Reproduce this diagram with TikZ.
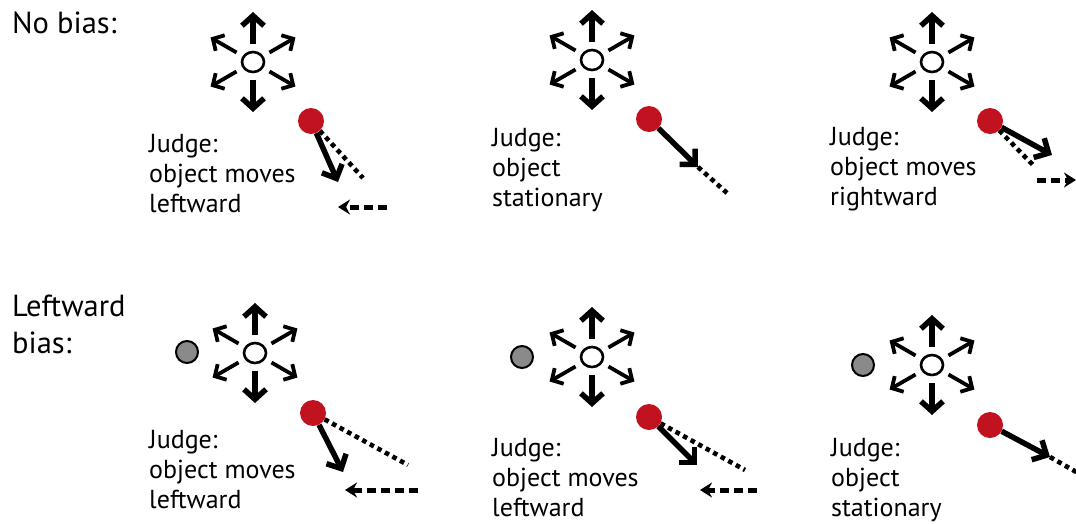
\documentclass[tikz,border=0pt]{standalone}
\usepackage{fontspec}
\setmainfont{PT Sans}
\usetikzlibrary{arrows.meta,shapes.geometric}
\definecolor{dotred}{HTML}{C1121F}
\definecolor{dotgray}{HTML}{8A8A8A}
\tikzset{
  vertarr/.style={line width=5.5pt,-{Straight Barb[length=10pt,width=22pt]}},
  diagarr/.style={line width=3.8pt,-{Straight Barb[length=8.5pt,width=18pt]}},
  centerdot/.style={ellipse,draw,line width=2.6pt,fill=white,minimum width=22pt,minimum height=20pt,inner sep=0pt},
  reddot/.style={circle,fill=dotred,minimum size=26pt,inner sep=0pt},
  graydot/.style={circle,draw,line width=2pt,fill=dotgray,minimum size=22pt,inner sep=0pt},
  solidarr/.style={line width=5.5pt,-{Straight Barb[length=11pt,width=22pt]}},
  dotline/.style={line width=4.6pt,dash pattern=on 4.6pt off 4pt},
  dasharr/.style={line width=5pt,dash pattern=on 9pt off 5pt,-{Stealth[length=12pt,width=15pt]}},
  judgetext/.style={font=\fontsize{26}{30}\selectfont,align=left,inner sep=0pt,anchor=base west},
  rowlabel/.style={font=\fontsize{30.5}{36.5}\selectfont,align=left,inner sep=0pt,anchor=base west},
}
\newcommand\motionstar[1]{%
  \foreach \a in {90,270}
    \draw[vertarr] ([shift={(\a:18)}]#1.center) -- ([shift={(\a:50)}]#1.center);
  \foreach \a in {30,150,210,330}
    \draw[diagarr] ([shift={(\a:19)}]#1.center) -- ([shift={(\a:49)}]#1.center);
}
\begin{document}
\begin{tikzpicture}[x=1pt,y=-1pt]
\useasboundingbox (0,0) rectangle (1076,523);
\clip (0,0) rectangle (1076,523);

% multi-line nodes: base anchor = baseline of the last line
\node[rowlabel] (lab1) at (12,33) {No bias:};
\node[rowlabel] (lab2) at (12,353) {Leftward\\bias:};

% ---------- top row ----------
\node[centerdot] (e1) at (253,62) {};
\motionstar{e1}
\node[reddot] (r1) at (311,121) {};
\coordinate (h1) at (338,182);
\coordinate (d1) at (363,178);
\coordinate (s1) at (387,207);
\coordinate (t1) at (338,207);
\draw[dotline] (r1) -- (d1);
\draw[solidarr] (r1) -- (h1);
\draw[dasharr] (s1) -- (t1);
\node[judgetext] (j1) at (149,212) {Judge:\\object moves\\leftward};

\node[centerdot] (e2) at (592,60) {};
\motionstar{e2}
\node[reddot] (r2) at (649,119) {};
\coordinate (h2) at (698,167);
\coordinate (d2) at (727,193);
\draw[solidarr] (r2) -- (h2);
\draw[dotline] (h2) -- (d2);
\node[judgetext] (j2) at (492,206) {Judge:\\object\\stationary};

\node[centerdot] (e3) at (932,62) {};
\motionstar{e3}
\node[reddot] (r3) at (990,121) {};
\coordinate (h3) at (1052,155);
\coordinate (d3) at (1035,167);
\coordinate (s3) at (1037,180);
\coordinate (t3) at (1076,180);
\draw[dotline] (r3) -- (d3);
\draw[solidarr] (r3) -- (h3);
\draw[dasharr] (s3) -- (t3);
\node[judgetext] (j3) at (830,205) {Judge:\\object moves\\rightward};

% ---------- bottom row ----------
\node[graydot] (g4) at (187,352) {};
\node[centerdot] (e4) at (255,353) {};
\motionstar{e4}
\node[reddot] (r4) at (313,413) {};
\coordinate (h4) at (343,472);
\coordinate (d4) at (408,465);
\coordinate (s4) at (418,490);
\coordinate (t4) at (345,490);
\draw[dotline] (r4) -- (d4);
\draw[solidarr] (r4) -- (h4);
\draw[dasharr] (s4) -- (t4);
\node[judgetext] (j4) at (149,508) {Judge:\\object moves\\leftward};

\node[graydot] (g5) at (522,357) {};
\node[centerdot] (e5) at (592,357) {};
\motionstar{e5}
\node[reddot] (r5) at (649,417) {};
\coordinate (h5) at (697,465);
\coordinate (d5) at (745,470);
\coordinate (s5) at (757,490);
\coordinate (t5) at (700,490);
\draw[dotline] (r5) -- (d5);
\draw[solidarr] (r5) -- (h5);
\draw[dasharr] (s5) -- (t5);
\node[judgetext] (j5) at (492,516) {Judge:\\object moves\\leftward};

\node[graydot] (g6) at (863,365) {};
\node[centerdot] (e6) at (932,365) {};
\motionstar{e6}
\node[reddot] (r6) at (990,425) {};
\coordinate (h6) at (1050,457);
\coordinate (d6) at (1078,473);
\draw[solidarr] (r6) -- (h6);
\draw[dotline] (h6) -- (d6);
\node[judgetext] (j6) at (831,516) {Judge:\\object\\stationary};
\end{tikzpicture}
\end{document}
